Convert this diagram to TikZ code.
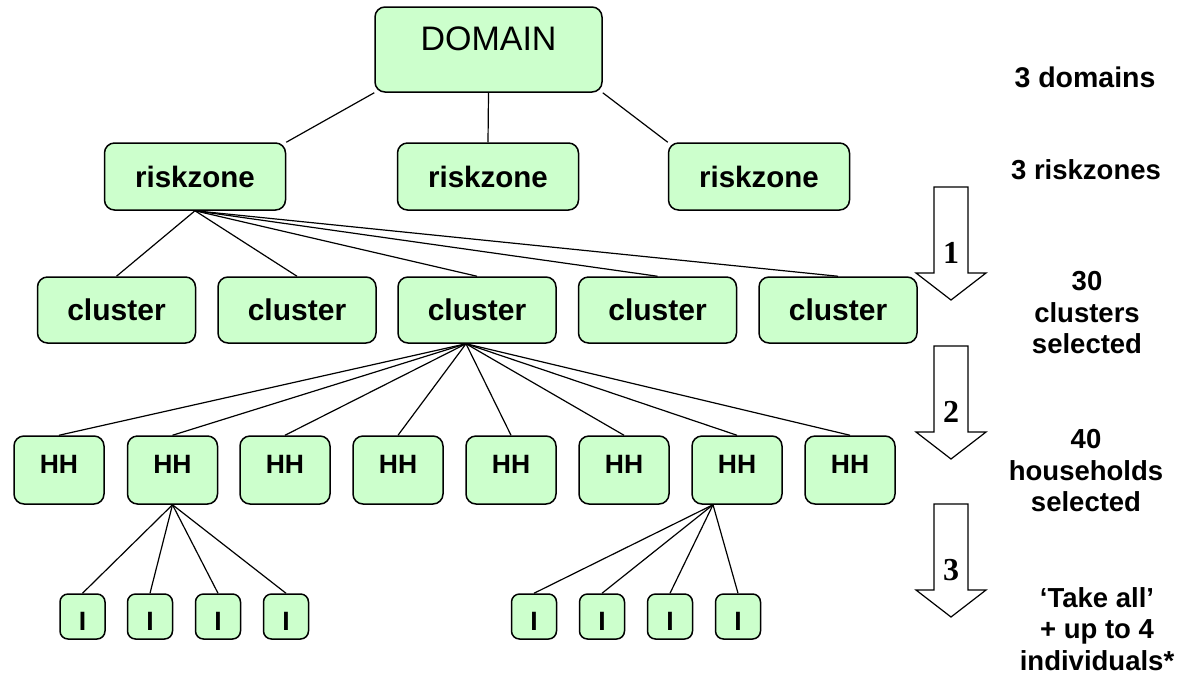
\documentclass[tikz,border=0pt]{standalone}
\usepackage{fontspec}
\setmainfont{Liberation Sans}
\newfontfamily\numfont{Liberation Serif}
\definecolor{boxgreen}{HTML}{CCFFCC}
\tikzset{
	box/.style={draw, line width=0.75pt, fill=boxgreen, rounded corners=5pt, inner sep=0pt},
	zonebox/.style={box, minimum width=90.5pt, minimum height=33.5pt, font=\fontsize{14.75}{16}\selectfont\bfseries},
	clusterbox/.style={box, minimum width=79pt, minimum height=33pt, font=\fontsize{15}{16}\selectfont\bfseries},
	hhbox/.style={box, minimum width=45pt, minimum height=34pt, text depth=5.5pt, font=\fontsize{13.25}{15}\selectfont\bfseries},
	indbox/.style={box, rounded corners=4pt, minimum width=22.5pt, minimum height=22.5pt, text height=13.5pt, font=\fontsize{13.25}{15}\selectfont\bfseries},
	sidelbl/.style={align=center, font=\fontsize{13.75}{15.75}\selectfont\bfseries},
	numlbl/.style={font=\fontsize{16}{18}\selectfont\numfont\bfseries},
	every edge/.style={draw, line width=0.6pt}
}
% hollow block arrow: top y, node name, number
\newcommand{\stagearrow}[3]{%
	\draw[fill=white, line width=0.6pt] (934,#1) -- (968,#1) -- (968,#1+86) -- (986,#1+86)
		-- (951,#1+113) -- (916,#1+86) -- (934,#1+86) -- cycle;
	\node[numlbl] (#2) at (951,#1+66) {#3};}
\begin{document}
\begin{tikzpicture}[x=0.5pt, y=-0.5pt]
	\useasboundingbox (0,0) rectangle (1192,675);
	% levels
	\node (dom) [box, minimum width=113.5pt, minimum height=42.5pt, text depth=10.5pt, font=\fontsize{17}{19}\selectfont] at (488.5,49.5) {DOMAIN};
	\node (rz1) [zonebox] at (195,176.5) {riskzone};
	\node (rz2) [zonebox] at (488,176.5) {riskzone};
	\node (rz3) [zonebox] at (759,176.5) {riskzone};
	\node (cl1) [clusterbox] at (116.5,310) {cluster};
	\node (cl2) [clusterbox] at (297,310) {cluster};
	\node (cl3) [clusterbox] at (477,310) {cluster};
	\node (cl4) [clusterbox] at (657.5,310) {cluster};
	\node (cl5) [clusterbox] at (838,310) {cluster};
	\node (hh1) [hhbox] at (59,470) {HH};
	\node (hh2) [hhbox] at (172.5,470) {HH};
	\node (hh3) [hhbox] at (285,470) {HH};
	\node (hh4) [hhbox] at (398,470) {HH};
	\node (hh5) [hhbox] at (511,470) {HH};
	\node (hh6) [hhbox] at (624,470) {HH};
	\node (hh7) [hhbox] at (737,470) {HH};
	\node (hh8) [hhbox] at (850,470) {HH};
	\node (i1) [indbox] at (82.5,616.5) {I};
	\node (i2) [indbox] at (150,616.5) {I};
	\node (i3) [indbox] at (218,616.5) {I};
	\node (i4) [indbox] at (286,616.5) {I};
	\node (i5) [indbox] at (534,616.5) {I};
	\node (i6) [indbox] at (602,616.5) {I};
	\node (i7) [indbox] at (670,616.5) {I};
	\node (i8) [indbox] at (738,616.5) {I};
	% links
	\path
	(dom.south west) edge (rz1.north east)
	(dom.south) edge (rz2.north)
	(dom.south east) edge (rz3.north west)
	(rz1.south) edge (cl1.north)
	(rz1.south) edge (cl2.north)
	(rz1.south) edge (cl3.north)
	(rz1.south) edge (cl4.north)
	(rz1.south) edge (cl5.north)
	([xshift=-5.5pt]cl3.south) edge (hh1.north)
	([xshift=-5.5pt]cl3.south) edge (hh2.north)
	([xshift=-5.5pt]cl3.south) edge (hh3.north)
	([xshift=-5.5pt]cl3.south) edge (hh4.north)
	([xshift=-5.5pt]cl3.south) edge (hh5.north)
	([xshift=-5.5pt]cl3.south) edge (hh6.north)
	([xshift=-5.5pt]cl3.south) edge (hh7.north)
	([xshift=-5.5pt]cl3.south) edge (hh8.north)
	(hh2.south) edge (i1.north)
	(hh2.south) edge (i2.north)
	(hh2.south) edge (i3.north)
	(hh2.south) edge (i4.north)
	([xshift=-12pt]hh7.south) edge (i5.north)
	([xshift=-12pt]hh7.south) edge (i6.north)
	([xshift=-12pt]hh7.south) edge (i7.north)
	([xshift=-12pt]hh7.south) edge (i8.north);
	% stages
	\stagearrow{187}{stp1}{1}
	\stagearrow{346}{stp2}{2}
	\stagearrow{504}{stp3}{3}
	\node (lbl1) [sidelbl, font=\fontsize{14.25}{16}\selectfont\bfseries] at (1085,77) {3 domains};
	\node (lbl2) [sidelbl] at (1086,170) {3 riskzones};
	\node (lbl3) [sidelbl] at (1087,313) {30\\clusters\\selected};
	\node (lbl4) [sidelbl] at (1086,471) {40\\households\\selected};
	\node (lbl5) [sidelbl] at (1097,629) {‘Take all’\\+ up to 4\\individuals*};
\end{tikzpicture}
\end{document}
